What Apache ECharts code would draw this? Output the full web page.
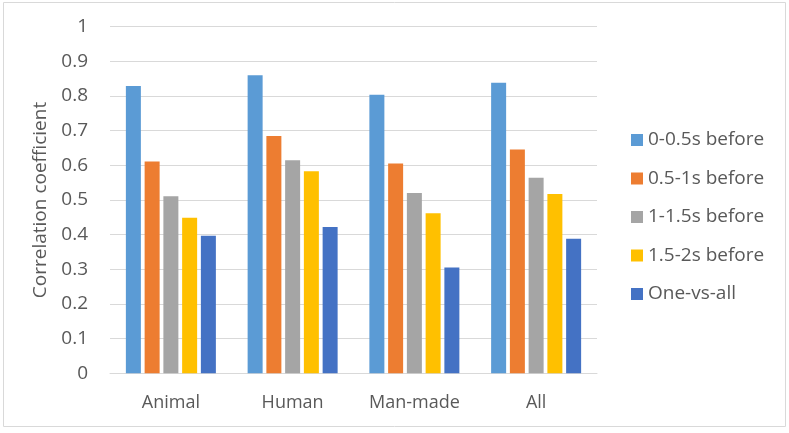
<!DOCTYPE html>
<html><head><meta charset="utf-8">
<script src="https://cdn.jsdelivr.net/npm/echarts@6/dist/echarts.min.js"></script>
<style>html,body{margin:0;padding:0;background:#fff}#c{width:789px;height:433px}</style>
</head><body><div id="c"></div>
<script>
const categories = ['Animal', 'Human', 'Man-made', 'All'];
const seriesNames = ['0-0.5s before', '0.5-1s before', '1-1.5s before', '1.5-2s before', 'One-vs-all'];
const s1 = [0.829, 0.860, 0.804, 0.838];
const s2 = [0.611, 0.685, 0.605, 0.646];
const s3 = [0.511, 0.615, 0.520, 0.564];
const s4 = [0.449, 0.583, 0.462, 0.517];
const s5 = [0.397, 0.422, 0.305, 0.388];
const colors = ['#5B9BD5', '#ED7D31', '#A5A5A5', '#FFC000', '#4472C4'];
const allData = [s1, s2, s3, s4, s5];

const chart = echarts.init(document.getElementById('c'), null, {renderer: 'canvas'});
const font = 'Open Sans, Liberation Sans, sans-serif';
chart.setOption({
  animation: false,
  textStyle: {fontFamily: font},
  graphic: [{type: 'rect', shape: {x: 3.5, y: 2.5, width: 782, height: 424}, style: {fill: 'none', stroke: '#D9D9D9', lineWidth: 1}}],
  grid: {left: 110, right: 192, top: 26.7, bottom: 59.7},
  legend: {
    orient: 'vertical', left: 626, top: 125, itemWidth: 12, itemHeight: 12, itemGap: 18.5,
    icon: 'rect', textStyle: {fontSize: 19, lineHeight: 20, color: '#595959', fontFamily: font},
    data: seriesNames
  },
  xAxis: {
    type: 'category', data: categories,
    axisLine: {lineStyle: {color: '#D9D9D9'}}, axisTick: {show: false},
    axisLabel: {fontSize: 18, color: '#595959', margin: 21, interval: 0}
  },
  yAxis: {
    type: 'value', min: 0, max: 1, interval: 0.1,
    name: 'Correlation coefficient', nameLocation: 'middle', nameGap: 57,
    nameTextStyle: {fontSize: 19, color: '#595959'},
    axisLine: {show: false}, axisTick: {show: false},
    axisLabel: {fontSize: 19, color: '#595959', margin: 22, formatter: v => String(Math.round(v*10)/10)},
    splitLine: {lineStyle: {color: '#D9D9D9'}}
  },
  series: seriesNames.map((n, i) => ({
    name: n, type: 'bar', data: allData[i], barWidth: 15, barGap: '25%',
    itemStyle: {color: colors[i]}
  }))
});
</script></body></html>
